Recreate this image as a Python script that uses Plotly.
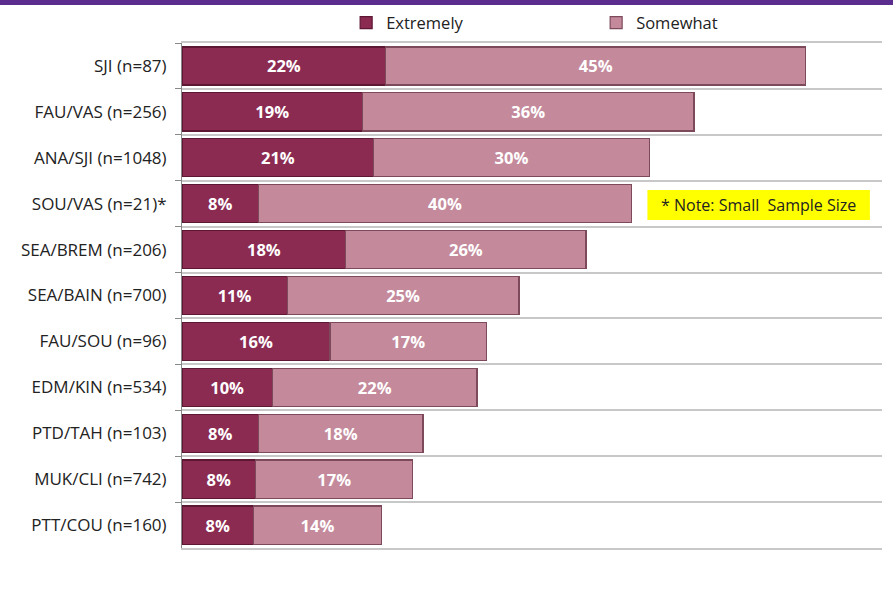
import plotly.graph_objects as go

categories = ["SJI (n=87)", "FAU/VAS (n=256)", "ANA/SJI (n=1048)", "SOU/VAS (n=21)*",
              "SEA/BREM (n=206)", "SEA/BAIN (n=700)", "FAU/SOU (n=96)", "EDM/KIN (n=534)",
              "PTD/TAH (n=103)", "MUK/CLI (n=742)", "PTT/COU (n=160)"]
extremely = [21.9, 19.4, 20.6, 8.2, 17.6, 11.3, 15.9, 9.7, 8.2, 7.9, 7.7]
somewhat = [45.1, 35.6, 29.6, 40.1, 25.8, 24.9, 16.8, 22.0, 17.7, 16.9, 13.7]

font_fam = "Open Sans, Liberation Sans, sans-serif"

fig = go.Figure()
fig.add_trace(go.Bar(
    y=categories, x=extremely, name="Extremely", orientation="h",
    marker=dict(color="#8b2b52", line=dict(color="#5e1733", width=1.2)),
    texttemplate="%{x:.0f}%", textposition="inside", insidetextanchor="middle",
    textfont=dict(color="white", size=16.5, family=font_fam, weight="bold"),
))
fig.add_trace(go.Bar(
    y=categories, x=somewhat, name="Somewhat", orientation="h",
    marker=dict(color="#c48a9c", line=dict(color="#7d4a5c", width=1.2)),
    texttemplate="%{x:.0f}%", textposition="inside", insidetextanchor="middle",
    textfont=dict(color="white", size=16.5, family=font_fam, weight="bold"),
))

fig.update_layout(
    barmode="stack",
    width=893, height=590,
    margin=dict(l=182, r=11, t=43, b=42, autoexpand=False),
    paper_bgcolor="white", plot_bgcolor="white",
    bargap=0.17,
    font=dict(family=font_fam, size=13, color="#222222"),
    legend=dict(orientation="h", x=0.2345, y=1.005, xanchor="left", yanchor="bottom",
                font=dict(size=16.5, color="#222222"), bgcolor="rgba(0,0,0,0)",
                traceorder="normal", entrywidth=205, entrywidthmode="pixels"),
    xaxis=dict(range=[0, 75.2], showgrid=False, zeroline=False, showticklabels=False,
               ticks="", showline=True, mirror=True, linecolor="#c8c8c8", linewidth=1.5),
    yaxis=dict(autorange="reversed", tickson="boundaries", showgrid=True, automargin=False,
               gridcolor="#c8c8c8", gridwidth=1.5, ticks="outside", ticklen=6,
               tickcolor="#888888", showline=True, linecolor="#888888", linewidth=1,
               tickfont=dict(size=17, color="#222222"), ticklabelstandoff=11),
    shapes=[
        dict(type="rect", xref="paper", yref="paper", x0=-0.27, x1=1.03, y0=1.0753, y1=1.09,
             fillcolor="#5b2d8e", line=dict(width=0), layer="above"),
        dict(type="rect", xref="x", yref="paper", x0=50.0, x1=73.9, y0=0.6495, y1=0.709,
             fillcolor="#ffff00", line=dict(width=0)),
    ],
    annotations=[
        dict(text="* Note: Small  Sample Size", xref="x", yref="paper", x=61.95, y=0.679,
             xanchor="center", yanchor="middle",
             showarrow=False, font=dict(size=16, color="#222222", family=font_fam)),
    ],
)

fig.write_html("out.html", config={"displayModeBar": False},
               post_script="document.body.style.margin='0';")
